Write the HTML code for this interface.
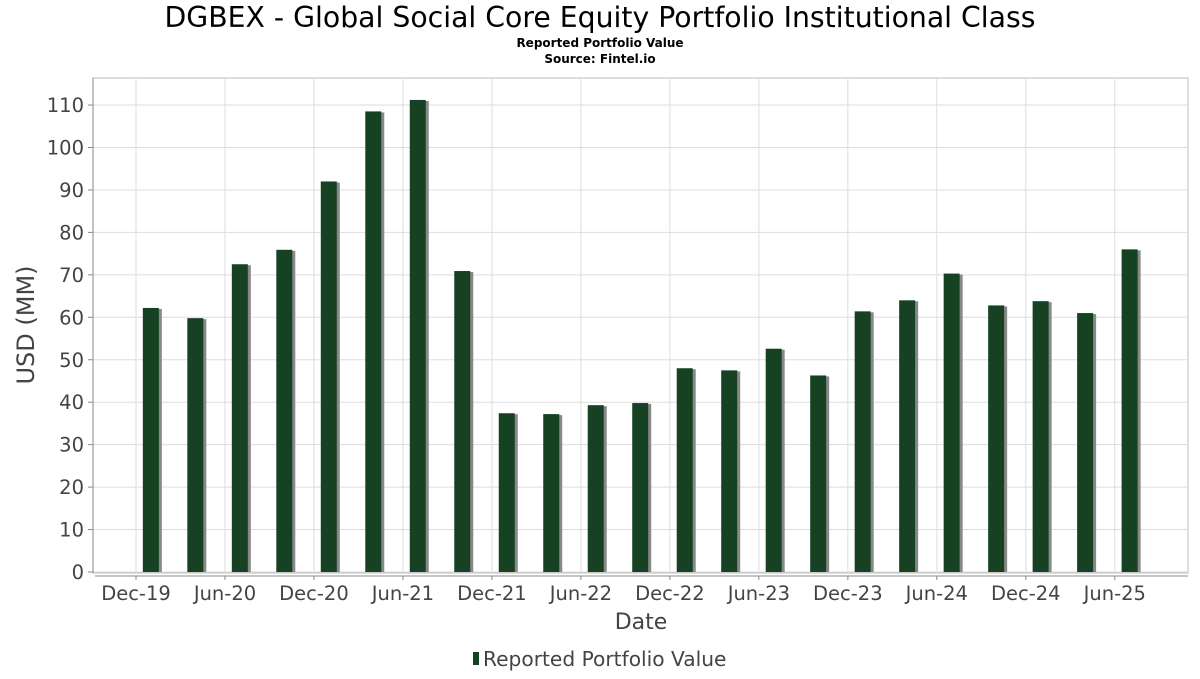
<!DOCTYPE html>
<html><head><meta charset="utf-8"><style>
body{margin:0;background:#fff;font-family:"DejaVu Sans","Liberation Sans",sans-serif;}
</style></head><body>
<svg width="1200" height="675" xmlns="http://www.w3.org/2000/svg" font-family="DejaVu Sans, Liberation Sans, sans-serif">
<text x="600" y="27" text-anchor="middle" font-size="28.3" fill="#000">DGBEX - Global Social Core Equity Portfolio Institutional Class</text>
<text x="600" y="47" text-anchor="middle" font-size="12" font-weight="bold">Reported Portfolio Value</text>
<text x="600" y="63" text-anchor="middle" font-size="12" font-weight="bold">Source: Fintel.io</text>
<rect x="93" y="78" width="1095" height="495" fill="#fff" stroke="#bbb"/>
<g id="grid"></g><g id="bars"></g><g id="axes"></g>
<text x="641" y="629" text-anchor="middle" font-size="22" fill="#444">Date</text>
<text transform="translate(34,325) rotate(-90)" text-anchor="middle" font-size="24" fill="#444">USD (MM)</text>
<g>
<rect x="473" y="652" width="6" height="13" fill="#174123"/>
<text x="483" y="666" font-size="20.2" fill="#444">Reported Portfolio Value</text>
</g>
</svg>
<script>
const monthsFromDec19=[1,4,7,10,13,16,19,22,25,28,31,34,37,40,43,46,49,52,55,58,61,64,67];
const values=[62.2,59.8,72.5,75.9,92,108.5,111.2,70.9,37.4,37.2,39.3,39.8,48,47.5,52.6,46.3,61.4,64,70.3,62.8,63.8,61,76];
const yTicks=[0,10,20,30,40,50,60,70,80,90,100,110];
const xLabels=["Dec-19","Jun-20","Dec-20","Jun-21","Dec-21","Jun-22","Dec-22","Jun-23","Dec-23","Jun-24","Dec-24","Jun-25"];
const NS="http://www.w3.org/2000/svg";
const X=m=>136+m*14.83;
const Y=v=>572-v*4.245;
function mk(t,a,p){const e=document.createElementNS(NS,t);for(const k in a)e.setAttribute(k,a[k]);p.appendChild(e);return e;}
const grid=document.getElementById('grid'),bars=document.getElementById('bars'),axes=document.getElementById('axes');
yTicks.forEach(v=>{
 const l=mk('line',{x1:93,x2:1188,y1:Y(v),y2:Y(v),stroke:'#ddd'},grid);
 
 
 mk('line',{x1:88,x2:93,y1:Y(v),y2:Y(v),stroke:'#888'},axes);
 const t=mk('text',{x:84,y:Y(v)+7,'text-anchor':'end','font-size':19.5,fill:'#444'},axes);
 t.textContent=v;
 
 
});
xLabels.forEach((s,i)=>{
 const x=X(i*6);
 const l=mk('line',{x1:x,x2:x,y1:78,y2:573,stroke:'#ddd'},grid);
 
 
 mk('line',{x1:x,x2:x,y1:576,y2:580,stroke:'#888'},axes);
 const t=mk('text',{x:x,y:600,'text-anchor':'middle','font-size':19.5,fill:'#444'},axes);
 t.textContent=s;
 
 
});
mk('line',{x1:95,x2:1188,y1:576,y2:576,stroke:'#888'},axes);
mk('line',{x1:93,x2:93,y1:78,y2:573,stroke:'#888'},axes);
values.forEach((v,i)=>{
 const cx=X(monthsFromDec19[i]);
 mk('rect',{x:cx-5,y:Y(v)+1,width:16,height:572-Y(v)-1,fill:'#888'},bars);
 const r=mk('rect',{x:cx-8,y:Y(v),width:16,height:572-Y(v),fill:'#174123'},bars);
 
 
});
</script>
</body></html>
